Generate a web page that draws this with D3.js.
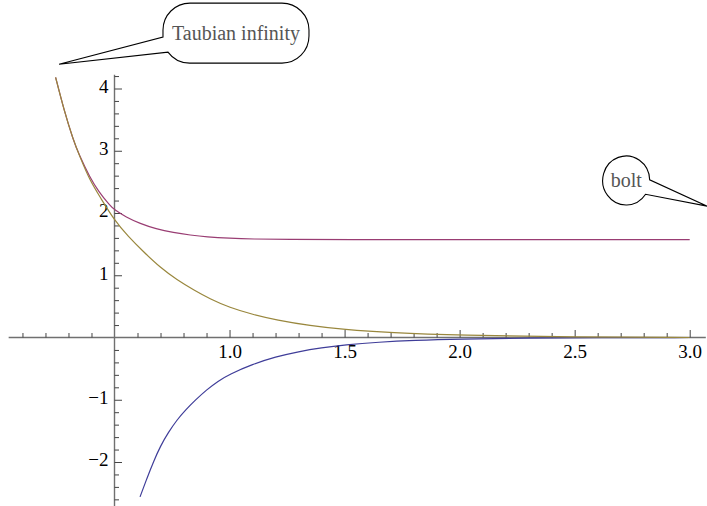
<!DOCTYPE html>
<html>
<head>
<meta charset="utf-8">
<script src="https://cdn.jsdelivr.net/npm/d3@7"></script>
<style>
  body { margin: 0; background: #fff; }
  svg { display: block; }
  .tick text { font-family: "Liberation Serif", "Times New Roman", serif; font-size: 19px; fill: #000; }
  .axis .domain { stroke: #707070; stroke-width: 1.4; }
  .axis .tick line { stroke: #444; stroke-width: 1; }
  .line { fill: none; stroke-width: 1.2; }
  .callout { fill: #fff; stroke: #000; stroke-width: 1.1; }
  .callout-text { font-family: "Liberation Serif", "Times New Roman", serif; font-size: 20px; fill: #555; }
</style>
</head>
<body>
<div class="chart"></div>
<script>
// values
var oliveX = [0.244, 0.28, 0.321, 0.35, 0.393, 0.44, 0.5, 0.56, 0.625, 0.7, 0.77, 0.85, 0.915, 1.0, 1.1, 1.205, 1.35, 1.495, 1.7, 2.0, 2.5, 3.0];
var oliveY = [4.18, 3.66, 3.17, 2.90, 2.52, 2.24, 1.88, 1.62, 1.38, 1.12, 0.93, 0.75, 0.62, 0.48, 0.37, 0.28, 0.19, 0.128, 0.075, 0.035, 0.008, 0.0];

var purpleX = [0.244, 0.28, 0.321, 0.343, 0.393, 0.43, 0.48, 0.5, 0.55, 0.611, 0.68, 0.756, 0.83, 0.9, 1.0, 1.1, 1.25, 1.5, 2.0, 3.0];
var purpleY = [4.18, 3.66, 3.17, 2.96, 2.57, 2.35, 2.12, 2.05, 1.935, 1.83, 1.745, 1.685, 1.645, 1.615, 1.593, 1.582, 1.575, 1.572, 1.571, 1.571];

var blueX = [0.611, 0.64, 0.67, 0.70, 0.735, 0.77, 0.81, 0.85, 0.90, 0.95, 1.0, 1.1, 1.2, 1.3, 1.4, 1.5, 1.65, 1.8, 2.0, 2.3, 2.6, 3.0];
var blueY = [-2.56, -2.27, -1.99, -1.74, -1.52, -1.33, -1.16, -1.01, -0.84, -0.70, -0.59, -0.43, -0.31, -0.226, -0.164, -0.119, -0.074, -0.045, -0.024, -0.01, -0.004, 0.0];

var xMajor = [1.0, 1.5, 2.0, 2.5, 3.0];
var yMajor = [-2, -1, 1, 2, 3, 4];

var calloutLabels = ["Taubian infinity", "bolt"];
var calloutTipX = [0.259, 3.076];
var calloutTipY = [4.39, 2.11];
var calloutX = [1.028, 2.724];
var calloutY = [4.89, 2.514];

var width = 707;
var height = 506;

var svg = d3.select(".chart").append("svg")
    .attr("width", width)
    .attr("height", height);

var xScale = d3.scaleLinear()
    .domain([0.5, 3.0])
    .range([114.5, 689.7]);

var yScale = d3.scaleLinear()
    .domain([0, 4])
    .range([337.5, 88.5]);

// minor ticks
var xMinor = d3.range(1, 31).map(function (d) { return d / 10; })
    .filter(function (d) { return Math.abs(d * 2 - Math.round(d * 2)) > 1e-6; });
var yMinor = d3.range(-13, 22).map(function (d) { return d / 5; })
    .filter(function (d) { return Math.abs(d - Math.round(d)) > 1e-6; });

var xAxisG = svg.append("g")
    .attr("class", "x axis")
    .attr("transform", "translate(0," + yScale(0) + ")");

xAxisG.call(d3.axisBottom(xScale)
    .tickValues(xMinor)
    .tickSize(-4.5)
    .tickSizeOuter(0)
    .tickFormat(""));
xAxisG.select(".domain").attr("d", "M" + xScale(0.04) + ",0H" + xScale(3.07));

svg.append("g")
    .attr("class", "x axis major")
    .attr("transform", "translate(0," + yScale(0) + ")")
    .call(d3.axisBottom(xScale)
        .tickValues(xMajor)
        .tickSize(-7.5)
        .tickPadding(7)
        .tickFormat(d3.format(".1f")))
    .select(".domain").remove();

var yAxisG = svg.append("g")
    .attr("class", "y axis")
    .attr("transform", "translate(" + xScale(0.5) + ",0)");

yAxisG.call(d3.axisLeft(yScale)
    .tickValues(yMinor)
    .tickSize(-4.5)
    .tickSizeOuter(0)
    .tickFormat(""));
yAxisG.select(".domain").attr("d", "M0," + yScale(4.22) + "V" + height);

svg.append("g")
    .attr("class", "y axis major")
    .attr("transform", "translate(" + xScale(0.5) + ",0)")
    .call(d3.axisLeft(yScale)
        .tickValues(yMajor)
        .tickSize(-7.5)
        .tickPadding(6)
        .tickFormat(d3.format("d")))
    .select(".domain").remove();

svg.selectAll(".y.major .tick text").attr("dy", "0.2em");

// curves
var line = d3.line()
    .x(function (d) { return xScale(d.x); })
    .y(function (d) { return yScale(d.y); })
    .curve(d3.curveBasis);

function toPoints(xs, ys) {
    return xs.map(function (x, i) { return { x: x, y: ys[i] }; });
}

svg.append("path")
    .datum(toPoints(blueX, blueY))
    .attr("class", "line")
    .attr("stroke", "#3f3d99")
    .attr("d", line);

svg.append("path")
    .datum(toPoints(purpleX, purpleY))
    .attr("class", "line")
    .attr("stroke", "#993d73")
    .attr("d", line);

svg.append("path")
    .datum(toPoints(oliveX, oliveY))
    .attr("class", "line")
    .attr("stroke", "#99873d")
    .attr("d", line);

// callouts
// stadium bubble with a tail
var tx = xScale(calloutTipX[0]), ty = yScale(calloutTipY[0]);
var cx = xScale(calloutX[0]), cy = yScale(calloutY[0]);
var hw = 73, hh = 30, r = 27;
var bx0 = cx - hw, bx1 = cx + hw, by0 = cy - hh, by1 = cy + hh;
var p = "M" + tx + "," + ty +
    "L" + bx0 + "," + (cy + 4) +
    "L" + bx0 + "," + (by0 + r) +
    "A" + r + "," + r + " 0 0 1 " + (bx0 + r) + "," + by0 +
    "L" + (bx1 - r) + "," + by0 +
    "A" + r + "," + r + " 0 0 1 " + bx1 + "," + (by0 + r) +
    "L" + bx1 + "," + (by1 - r) +
    "A" + r + "," + r + " 0 0 1 " + (bx1 - r) + "," + by1 +
    "L" + (bx0 + r) + "," + by1 +
    "A" + r + "," + r + " 0 0 1 " + (bx0 + 5) + "," + (cy + 19) + "Z";
svg.append("path").attr("class", "callout").attr("d", p);
svg.append("text")
    .attr("class", "callout-text")
    .attr("x", cx)
    .attr("y", cy + 7)
    .attr("text-anchor", "middle")
    .text(calloutLabels[0]);

// round bubble with a tail
var tx2 = xScale(calloutTipX[1]), ty2 = yScale(calloutTipY[1]);
var cx2 = xScale(calloutX[1]), cy2 = yScale(calloutY[1]);
var rb = 23.5;
var a1 = -0.05, a2 = 0.6;
var p2 = "M" + tx2 + "," + ty2 +
    "L" + (cx2 + rb * Math.cos(a1)) + "," + (cy2 + rb * Math.sin(a1)) +
    "A" + rb + "," + (rb + 1) + " 0 1 0 " + (cx2 + rb * Math.cos(a2)) + "," + (cy2 + rb * Math.sin(a2)) + "Z";
svg.append("path").attr("class", "callout").attr("d", p2);
svg.append("text")
    .attr("class", "callout-text")
    .attr("x", cx2)
    .attr("y", cy2 + 6)
    .attr("text-anchor", "middle")
    .text(calloutLabels[1]);
</script>
</body>
</html>
